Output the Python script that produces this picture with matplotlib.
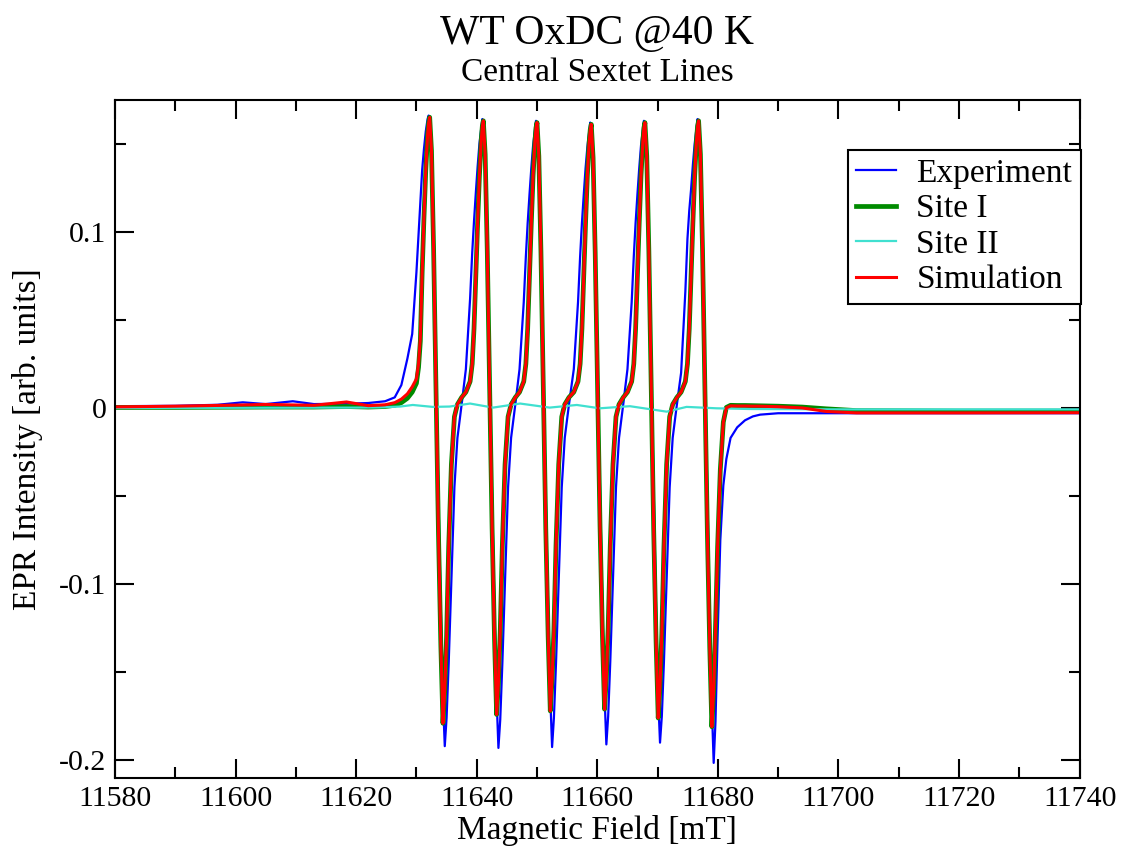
import matplotlib
matplotlib.use("Agg")
import matplotlib.pyplot as plt
from matplotlib.ticker import MultipleLocator

plt.rcParams['font.family'] = ['Liberation Serif', 'DejaVu Serif']
plt.rcParams['axes.unicode_minus'] = False

# magnetic field grid (mT), shared by experiment / site I / simulation
field = [
    11580, 11590, 11597, 11601.2, 11605, 11609.5, 11613, 11618.4, 11622, 11624.8, 11626.4, 11627.5, 11628.5,
    11629.3, 11630.0, 11630.35, 11630.65, 11630.95, 11631.25, 11631.55, 11631.85, 11632.03, 11632.2, 11632.5, 11632.85,
    11633.25, 11633.65, 11634.05, 11634.4, 11634.7, 11635.0, 11635.35, 11635.8, 11636.3, 11636.8, 11637.5,
    11638.2, 11638.9, 11639.25, 11639.55, 11639.85, 11640.15, 11640.45, 11640.75, 11640.93, 11641.1, 11641.4, 11641.75,
    11642.15, 11642.55, 11642.95, 11643.3, 11643.6, 11643.9, 11644.25, 11644.7, 11645.2, 11645.7, 11646.4,
    11647.1, 11647.8, 11648.15, 11648.45, 11648.75, 11649.05, 11649.35, 11649.65, 11649.83, 11650.0, 11650.3, 11650.65,
    11651.05, 11651.45, 11651.85, 11652.2, 11652.5, 11652.8, 11653.15, 11653.6, 11654.1, 11654.6, 11655.3,
    11656.1, 11656.8, 11657.15, 11657.45, 11657.75, 11658.05, 11658.35, 11658.65, 11658.83, 11659.0, 11659.3, 11659.65,
    11660.05, 11660.45, 11660.85, 11661.2, 11661.5, 11661.8, 11662.15, 11662.6, 11663.1, 11663.6, 11664.3,
    11665.0, 11665.7, 11666.05, 11666.35, 11666.65, 11666.95, 11667.25, 11667.55, 11667.73, 11667.9, 11668.2, 11668.55,
    11668.95, 11669.35, 11669.75, 11670.1, 11670.4, 11670.7, 11671.05, 11671.5, 11672.0, 11672.5, 11673.2,
    11673.9, 11674.6, 11674.95, 11675.25, 11675.55, 11675.85, 11676.15, 11676.45, 11676.63, 11676.8, 11677.1, 11677.45,
    11677.85, 11678.25, 11678.65, 11679.0, 11679.3, 11679.6, 11679.95, 11680.4, 11680.9, 11681.4, 11682.1,
    11683.2, 11684.5, 11685.8, 11687, 11690, 11694, 11698, 11703, 11720, 11740,
]

experiment = [
    0.001, 0.0012, 0.0018, 0.0032, 0.0022, 0.0038, 0.0022, 0.0024, 0.0028, 0.0038, 0.006, 0.013, 0.028,
    0.042, 0.077, 0.098, 0.117, 0.135, 0.147, 0.157, 0.164, 0.166, 0.162, 0.142, 0.090,
    0.020, -0.050, -0.115, -0.165, -0.192, -0.176, -0.145, -0.098, -0.045, -0.017, 0.002,
    0.022, 0.062, 0.088, 0.106, 0.122, 0.137, 0.150, 0.159, 0.164, 0.161, 0.141, 0.090,
    0.020, -0.050, -0.115, -0.165, -0.193, -0.177, -0.145, -0.098, -0.045, -0.017, 0.002,
    0.022, 0.060, 0.086, 0.105, 0.121, 0.136, 0.149, 0.158, 0.163, 0.160, 0.140, 0.089,
    0.020, -0.050, -0.114, -0.164, -0.1925, -0.176, -0.145, -0.098, -0.045, -0.017, 0.002,
    0.022, 0.060, 0.086, 0.105, 0.121, 0.136, 0.148, 0.157, 0.162, 0.159, 0.139, 0.088,
    0.020, -0.050, -0.113, -0.163, -0.191, -0.175, -0.144, -0.097, -0.045, -0.017, 0.002,
    0.022, 0.060, 0.086, 0.105, 0.121, 0.136, 0.149, 0.158, 0.163, 0.160, 0.140, 0.089,
    0.020, -0.050, -0.115, -0.165, -0.190, -0.175, -0.144, -0.097, -0.045, -0.017, 0.002,
    0.020, 0.066, 0.096, 0.112, 0.124, 0.138, 0.150, 0.159, 0.164, 0.161, 0.141, 0.090,
    0.020, -0.050, -0.117, -0.170, -0.2015, -0.178, -0.130, -0.075, -0.044, -0.029, -0.017,
    -0.011, -0.007, -0.0048, -0.0038, -0.003, -0.003, -0.003, -0.003, -0.003, -0.003,
]

site_1 = [
    0.0003, 0.0003, 0.0004, 0.0004, 0.0005, 0.0005, 0.0005, 0.0008, 0.0005, 0.0008, 0.0015, 0.003, 0.0055,
    0.009, 0.014, 0.023, 0.038, 0.077, 0.108, 0.135, 0.155, 0.162, 0.165, 0.146, 0.090,
    0.010, -0.070, -0.135, -0.179, -0.160, -0.130, -0.079, -0.032, -0.005, 0.002, 0.006,
    0.009, 0.015, 0.025, 0.045, 0.075, 0.105, 0.132, 0.152, 0.160, 0.163, 0.144, 0.089,
    0.010, -0.068, -0.131, -0.174, -0.156, -0.127, -0.078, -0.032, -0.005, 0.002, 0.006,
    0.009, 0.015, 0.025, 0.045, 0.075, 0.105, 0.132, 0.151, 0.159, 0.162, 0.143, 0.089,
    0.010, -0.068, -0.130, -0.172, -0.154, -0.126, -0.078, -0.032, -0.005, 0.002, 0.006,
    0.009, 0.015, 0.025, 0.045, 0.075, 0.105, 0.132, 0.151, 0.158, 0.161, 0.142, 0.088,
    0.010, -0.067, -0.129, -0.171, -0.153, -0.125, -0.078, -0.032, -0.005, 0.002, 0.006,
    0.009, 0.015, 0.025, 0.045, 0.075, 0.105, 0.132, 0.151, 0.159, 0.162, 0.143, 0.089,
    0.010, -0.069, -0.133, -0.176, -0.158, -0.128, -0.079, -0.032, -0.005, 0.002, 0.006,
    0.009, 0.015, 0.025, 0.045, 0.075, 0.105, 0.132, 0.152, 0.160, 0.163, 0.144, 0.090,
    0.010, -0.070, -0.136, -0.181, -0.160, -0.125, -0.079, -0.035, -0.008, 0.0003, 0.0015,
    0.0014, 0.0014, 0.0013, 0.0012, 0.0010, 0.0005, -0.0005, -0.0015, -0.0018, -0.0018,
]

simulation = [
    0.0006, 0.001, 0.0014, 0.0017, 0.002, 0.0017, 0.0015, 0.0034, 0.0013, 0.0018, 0.003, 0.005, 0.008,
    0.012, 0.0165, 0.025, 0.040, 0.077, 0.108, 0.135, 0.155, 0.162, 0.165, 0.146, 0.090,
    0.010, -0.070, -0.135, -0.179, -0.160, -0.130, -0.079, -0.032, -0.005, 0.002, 0.006,
    0.009, 0.015, 0.025, 0.045, 0.075, 0.105, 0.132, 0.152, 0.160, 0.163, 0.144, 0.089,
    0.010, -0.068, -0.131, -0.174, -0.156, -0.127, -0.078, -0.032, -0.005, 0.002, 0.006,
    0.009, 0.015, 0.025, 0.045, 0.075, 0.105, 0.132, 0.151, 0.159, 0.162, 0.143, 0.089,
    0.010, -0.068, -0.130, -0.172, -0.154, -0.126, -0.078, -0.032, -0.005, 0.002, 0.006,
    0.009, 0.015, 0.025, 0.045, 0.075, 0.105, 0.132, 0.151, 0.158, 0.161, 0.142, 0.088,
    0.010, -0.067, -0.129, -0.171, -0.153, -0.125, -0.078, -0.032, -0.005, 0.002, 0.006,
    0.009, 0.015, 0.025, 0.045, 0.075, 0.105, 0.132, 0.151, 0.159, 0.162, 0.143, 0.089,
    0.010, -0.069, -0.133, -0.176, -0.158, -0.128, -0.079, -0.032, -0.005, 0.002, 0.006,
    0.009, 0.015, 0.025, 0.045, 0.075, 0.105, 0.132, 0.152, 0.160, 0.163, 0.144, 0.090,
    0.010, -0.070, -0.136, -0.181, -0.160, -0.125, -0.079, -0.035, -0.008, 0.000, 0.0012,
    0.0011, 0.0011, 0.0010, 0.0010, 0.0007, 0.0, -0.002, -0.0028, -0.0028, -0.0027,
]

# site II is tiny, sampled on its own coarser grid
site_2_field = [11580, 11600, 11620, 11623.9, 11627.3, 11629.4, 11632.7, 11635.5, 11638.9, 11642.7, 11647.2,
                11652.1, 11656.6, 11660.4, 11665.4, 11671.5, 11674.8, 11679.8, 11685.3, 11700, 11740]
site_2 = [0.0, 0.0001, 0.0002, 0.0003, 0.0008, 0.0017, 0.0006, 0.0008, 0.0025, 0.0002, 0.0025,
          0.0002, 0.0017, -0.0002, 0.0010, -0.0021, 0.0006, -0.0002, -0.0006, -0.0008, -0.0008]

x_ticks = [11580, 11600, 11620, 11640, 11660, 11680, 11700, 11720, 11740]
y_ticks = [-0.2, -0.1, 0.0, 0.1]
y_tick_labels = ['-0.2', '-0.1', '0', '0.1']

fig = plt.figure(figsize=(11.27, 8.52), dpi=100)
ax = fig.add_axes([0.102, 0.087, 0.856, 0.796])

ax.plot(field, experiment, color='#0000ff', lw=1.6, label='Experiment')
ax.plot(field, site_1, color='#008b00', lw=3.4, label='Site I')
ax.plot(site_2_field, site_2, color='#40e0d0', lw=1.6, label='Site II')
ax.plot(field, simulation, color='#ff0000', lw=2.2, label='Simulation')

ax.set_xlim(11580, 11740)
ax.set_ylim(-0.21, 0.175)
ax.set_xticks(x_ticks, labels=[str(t) for t in x_ticks])
ax.set_yticks(y_ticks, labels=y_tick_labels)
ax.xaxis.set_minor_locator(MultipleLocator(10))
ax.yaxis.set_minor_locator(MultipleLocator(0.05))
ax.tick_params(which='both', direction='in', top=True, right=True, width=1.5, labelsize=21.5)
ax.tick_params(which='major', length=14, pad=6)
ax.tick_params(which='minor', length=8)
for s in ax.spines.values():
    s.set_linewidth(1.5)

ax.set_xlabel('Magnetic Field [mT]', fontsize=24, labelpad=2)
ax.set_ylabel('EPR Intensity [arb. units]', fontsize=24, labelpad=12)

fig.text(0.53, 0.96, 'WT OxDC @40 K', ha='center', va='center', fontsize=30)
fig.text(0.53, 0.915, 'Central Sextet Lines', ha='center', va='center', fontsize=24)

leg = ax.legend(loc='upper left', bbox_to_anchor=(848 / 1127, 1 - 150 / 852),
                bbox_transform=fig.transFigure, fontsize=24, frameon=True, fancybox=False,
                framealpha=1, edgecolor='black', handlelength=1.2, handletextpad=0.6,
                labelspacing=0.15, borderpad=0.25, borderaxespad=0)
leg.get_frame().set_linewidth(1.5)

fig.savefig('out.png', dpi=100)
